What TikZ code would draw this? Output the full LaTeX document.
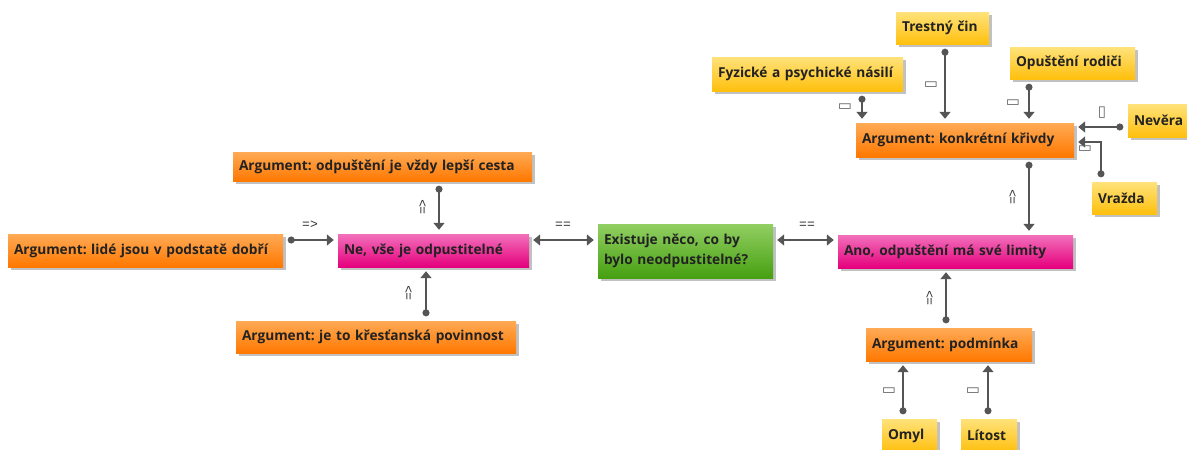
\documentclass[tikz,border=0pt]{standalone}
\usepackage{fontspec}
\setmainfont{Open Sans}
\newfontfamily\symfont{DejaVu Sans}
\newfontfamily\labfont{Liberation Mono}
\usetikzlibrary{arrows.meta,shadows}
\definecolor{orT}{HTML}{FFAA55}
\definecolor{orB}{HTML}{FF7800}
\definecolor{piT}{HTML}{F270BB}
\definecolor{piB}{HTML}{E5007D}
\definecolor{grT}{HTML}{92CF63}
\definecolor{grB}{HTML}{46A010}
\definecolor{yeT}{HTML}{FFE27A}
\definecolor{yeB}{HTML}{FFC00E}
\definecolor{lineC}{HTML}{555555}
\definecolor{txtC}{HTML}{222222}
\frenchspacing
\begin{document}
\begin{tikzpicture}[x=1pt,y=-1pt,
  box/.style={draw=none, font=\bfseries\fontsize{13.7}{20}\selectfont, text=txtC,
    inner xsep=6pt, inner ysep=0pt, align=left,
    drop shadow={shadow xshift=2.5pt,shadow yshift=-2.5pt,opacity=0.35,fill=black!70}},
  orangebox/.style={box, top color=orT, bottom color=orB},
  pinkbox/.style={box, top color=piT, bottom color=piB},
  greenbox/.style={box, top color=grT, bottom color=grB},
  yellowbox/.style={box, top color=yeT, bottom color=yeB},
  conn/.style={draw=lineC, line width=1.6pt,
    {Circle[length=7pt]}-{Triangle[length=7pt,width=11pt]},
    shorten <=4.5pt, shorten >=4pt},
  conntwo/.style={draw=lineC, line width=1.6pt,
    {Triangle[length=7pt,width=11pt]}-{Triangle[length=7pt,width=11pt]},
    shorten <=4pt, shorten >=4pt},
  lab/.style={font=\labfont\fontsize{13}{13}\selectfont, text=black!80, inner sep=0pt},
  symlab/.style={font=\symfont\fontsize{15}{15}\selectfont, text=black!60, inner sep=0pt}
]
\useasboundingbox (0,0) rectangle (1187,450);

% nodes
\node[orangebox, text width=263pt, minimum height=33pt] (lide) at (145.5,250.5) {Argument: lidé jsou v podstatě dobří};
\node[orangebox, text width=287pt, minimum height=29pt] (vzdy) at (382.5,166.5) {Argument: odpuštění je vždy lepší cesta};
\node[pinkbox, text width=179pt, minimum height=33pt] (ne) at (433.5,250.5) {Ne, vše je odpustitelné};
\node[orangebox, text width=268pt, minimum height=32pt] (povin) at (376,337) {Argument: je to křesťanská povinnost};
\node[greenbox, text width=163pt, minimum height=54pt] (otazka) at (685.5,251) {Existuje něco, co by\\bylo neodpustitelné?};
\node[pinkbox, text width=223pt, minimum height=33pt] (ano) at (955.5,251.5) {Ano, odpuštění má své limity};
\node[orangebox, text width=206pt, minimum height=34pt] (krivdy) at (965,140) {Argument: konkrétní křivdy};
\node[yellowbox, text width=81pt, minimum height=32pt] (trestny) at (942.5,28) {Trestný čin};
\node[yellowbox, text width=179pt, minimum height=34pt] (fyz) at (807.5,74) {Fyzické a psychické násilí};
\node[yellowbox, text width=113pt, minimum height=32pt] (opust) at (1072.5,63) {Opuštění rodiči};
\node[yellowbox, text width=48pt, minimum height=33pt] (nevera) at (1158,120.5) {Nevěra};
\node[yellowbox, text width=53pt, minimum height=32pt] (vrazda) at (1124.5,198) {Vražda};
\node[orangebox, text width=154pt, minimum height=33pt] (podm) at (949,344.5) {Argument: podmínka};
\node[yellowbox, text width=43pt, minimum height=33pt] (omyl) at (909.5,435.5) {Omyl};
\node[yellowbox, text width=44pt, minimum height=33pt] (litost) at (989,435.5) {Lítost};

% connectors
\draw[conn] (lide.east |- 0,240) -- (ne.west |- 0,240);
\draw[conn] (vzdy.south -| 439,0) -- (ne.north -| 439,0);
\draw[conn] (povin.north -| 426,0) -- (ne.south -| 426,0);
\draw[conntwo] (ne.east |- 0,240) -- (otazka.west |- 0,240);
\draw[conntwo] (otazka.east |- 0,240) -- (ano.west |- 0,240);
\draw[conn] (krivdy.south -| 1029,0) -- (ano.north -| 1029,0);
\draw[conn] (podm.north -| 946,0) -- (ano.south -| 946,0);
\draw[conn] (omyl.north -| 903,0) -- (podm.south -| 903,0);
\draw[conn] (litost.north -| 988,0) -- (podm.south -| 988,0);
\draw[conn] (trestny.south -| 945,0) -- (krivdy.north -| 945,0);
\draw[conn] (fyz.south -| 862,0) -- (krivdy.north -| 862,0);
\draw[conn] (opust.south -| 1029,0) -- (krivdy.north -| 1029,0);
\draw[conn] (nevera.west |- 0,127) -- (krivdy.east |- 0,127);
\draw[conn] (vrazda.north -| 1101,0) |- (krivdy.east |- 0,142);

% labels
\node[lab] (l1) at (310,225) {=>};
\node[lab, rotate=90] (l2) at (423,207) {=>};
\node[lab, rotate=90] (l3) at (409,293) {=>};
\node[lab] (l4) at (563,225) {==};
\node[lab] (l5) at (807,225) {==};
\node[lab, rotate=90] (l6) at (1013,197) {=>};
\node[lab, rotate=90] (l7) at (930,298) {=>};
\node[symlab] (l8) at (889,391) {▭};
\node[symlab] (l9) at (973,391) {▭};
\node[symlab] (l10) at (931,85) {▭};
\node[symlab] (l11) at (845,107) {▭};
\node[symlab] (l12) at (1013,103) {▭};
\node[symlab] (l13) at (1102,113) {▯};
\node[symlab] (l14) at (1085,149) {▭};
\end{tikzpicture}
\end{document}
